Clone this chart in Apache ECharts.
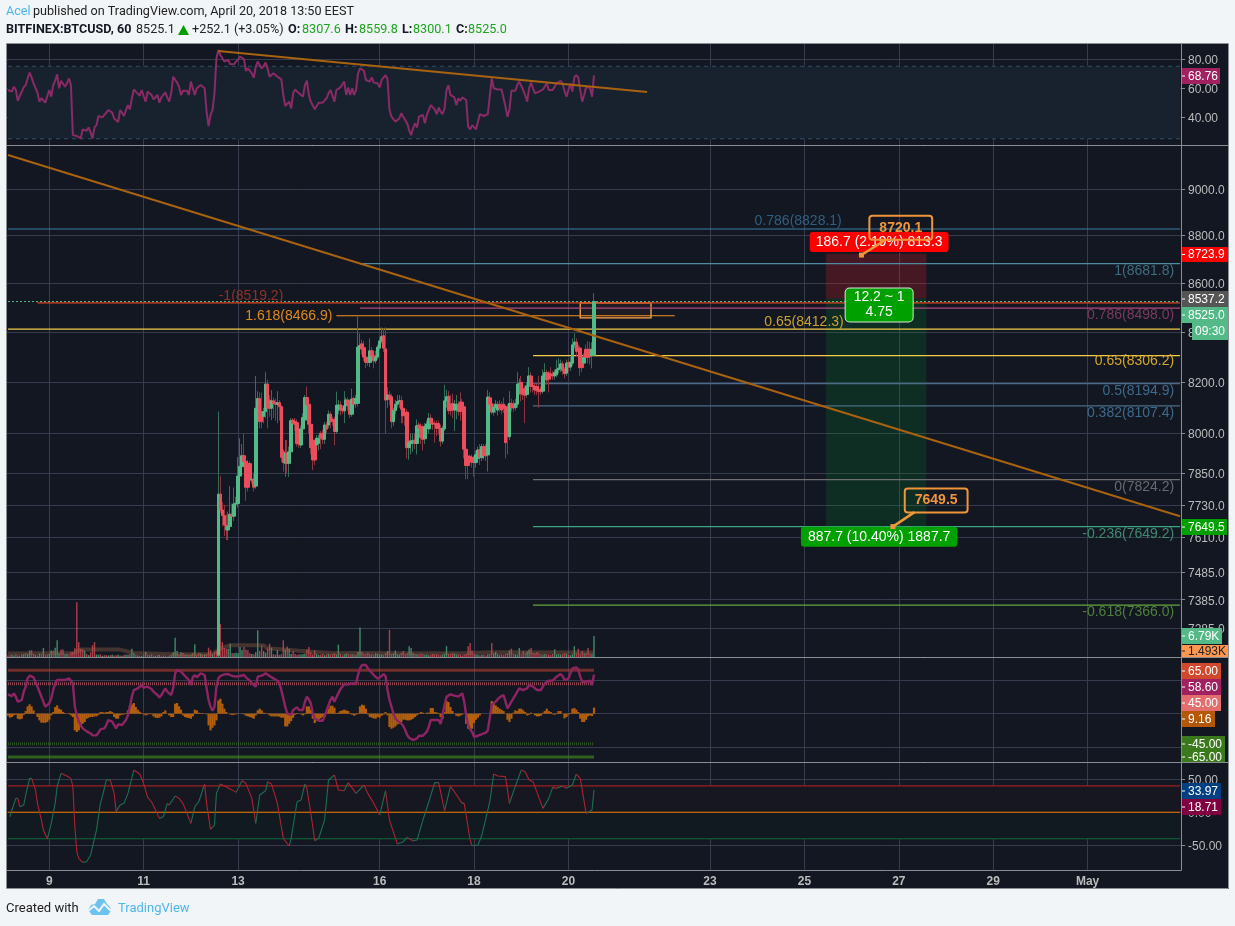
<!DOCTYPE html>
<html><head><meta charset="utf-8"><style>html,body{margin:0;padding:0;background:#f1f5f8}#c{width:1235px;height:926px}</style>
<script src="https://cdn.jsdelivr.net/npm/echarts@6/dist/echarts.min.js"></script></head><body><div id="c"></div>
<script>
const slotCount = 597;
const dayTickHours = [21,69,117,189,237,285,357,405,453,501,549];
const dayTickLabels = ['9','11','13','16','18','20','23','25','27','29','May'];
const priceTicks = [9000,8800,8600,8400,8200,8000,7850,7730,7610,7485,7385,7285];
const rsiTicks = [40,60,80];
const midTicks = [-50,0,50];
const stochTicks = [-50,0,50];
const candleStart = 107;
// open, close, low, high
const candles = [
[7190,7770,7190,8085],[7770,7711,7700,7838],[7711,7690,7650,7740],[7690,7655,7615,7730],[7655,7637,7600,7695],[7637,7650,7600,7705],[7650,7695,7640,7800],[7695,7688,7660,7735],[7688,7733,7670,7795],[7733,7736,7700,7760],
[7735,7838,7720,7910],[7838,7874,7825,7982],[7874,7915,7860,7960],[7915,7893,7870,8000],[7893,7796,7745,7905],[7885,7796,7780,7900],[7885,7823,7800,7895],[7823,7826,7810,7850],[7826,7796,7780,7850],[7800,8098,7790,8225],
[8098,8136,8080,8165],[8136,8046,8020,8160],[8085,8046,8020,8160],[8066,8085,8040,8100],[8085,8193,8060,8240],[8193,8098,8020,8210],[8130,8098,8065,8150],[8098,8127,8052,8170],[8127,8117,8060,8140],[8120,8113,8050,8135],
[8113,8120,8040,8165],[8120,8104,8050,8130],[8104,7909,7890,8110],[7930,7889,7855,7940],[7886,7924,7835,7975],[7924,7886,7850,7975],[7886,7930,7835,7950],[7930,8050,7920,8060],[8052,8039,8000,8060],[8046,8036,8010,8060],
[8042,7962,7950,8055],[7972,7960,7945,7990],[7956,8018,7945,8030],[8018,8062,8005,8079],[8052,8140,8045,8150],[8140,8111,8090,8183],[8114,8036,8000,8120],[8036,7946,7920,8045],[7975,7899,7860,7985],[7962,7899,7880,7975],
[7956,7982,7930,7995],[7962,7982,7935,7995],[8001,7982,7940,8010],[8001,7978,7960,8015],[7978,8033,7960,8045],[8033,8017,8000,8045],[8033,8075,8020,8090],[8075,8046,8020,8085],[8055,8046,8030,8065],[8055,8008,7955,8065],
[8008,8110,8000,8163],[8091,8111,8075,8130],[8111,8091,8070,8125],[8098,8088,8075,8110],[8088,8108,8040,8165],[8108,8130,8095,8140],[8130,8111,8090,8140],[8114,8075,8060,8125],[8075,8134,8065,8175],[8136,8114,8080,8145],
[8117,8136,8100,8150],[8117,8340,8105,8463],[8335,8347,8310,8395],[8353,8332,8310,8370],[8338,8300,8285,8365],[8300,8279,8256,8310],[8289,8279,8265,8300],[8279,8325,8260,8375],[8325,8305,8290,8340],[8305,8285,8255,8320],
[8285,8300,8275,8325],[8300,8340,8290,8350],[8336,8365,8325,8380],[8365,8383,8355,8420],[8386,8336,8320,8415],[8333,8130,8000,8420],[8133,8150,8100,8180],[8150,8133,8110,8165],[8143,8046,8020,8155],[8046,8089,8030,8100],
[8089,8114,8075,8130],[8114,8124,8100,8150],[8124,8128,8100,8150],
[8128,8094,8040,8145],[8098,8069,8040,8110],[8075,8070,8030,8085],[8083,7946,7905,8095],[7946,7965,7900,7975],[7962,7972,7920,8000],[7965,7972,7930,8001],[7975,7962,7940,8000],[7962,8030,7920,8055],[8033,8020,7985,8045],
[8027,7984,7960,8040],[8020,7978,7935,8035],[7980,8027,7960,8040],[8025,8037,8005,8050],[8018,8059,8000,8080],[8059,8039,8020,8075],[8042,8036,8015,8055],[8039,8036,7965,8050],[8039,8020,7990,8050],[8039,8020,7995,8050],
[8020,7971,7950,8035],[7971,8020,7960,8030],[8018,8127,8010,8190],[8127,8143,8100,8170],[8145,8089,8075,8165],[8114,8089,8070,8150],[8117,8091,8060,8155],[8091,8114,8010,8130],[8091,8114,8055,8150],[8114,8086,8070,8125],
[8122,8085,8050,8160],[8122,8104,8085,8135],[8104,7940,7905,8110],[7940,7878,7826,7950],[7914,7878,7826,7925],[7912,7903,7880,7920],[7909,7890,7870,7920],[7905,7889,7835,7915],[7889,7919,7870,7935],[7905,7937,7890,7950],
[7937,7908,7880,7960],[7908,7950,7895,7960],[7950,7915,7900,7960],[7950,7915,7895,7960],[7918,8142,7855,8170],[8139,8114,8100,8160],[8117,8083,8075,8130],[8083,8102,8070,8115],[8100,8114,8080,8130],[8091,8111,8070,8125],
[8114,8098,8085,8130],[8111,8091,8075,8125],[8114,8098,8080,8140],[8104,7965,7905,8112],[8104,7988,7920,8115],[7988,8117,7975,8165],[8117,8099,8085,8135],[8114,8099,8085,8130],[8101,8117,8090,8135],[8114,8193,8100,8240],
[8190,8196,8150,8215],[8200,8156,8125,8225],[8175,8152,8130,8190],[8171,8149,8040,8185],[8152,8186,8140,8200],[8186,8225,8170,8260],[8225,8184,8160,8240],[8187,8184,8160,8200],[8184,8170,8150,8195],[8183,8167,8150,8195],
[8170,8163,8100,8225],[8172,8163,8150,8185],[8165,8225,8155,8250],[8225,8238,8200,8275],[8238,8209,8190,8250],[8236,8213,8160,8245],[8233,8225,8210,8260],[8232,8225,8210,8245],[8225,8239,8210,8250],[8229,8250,8220,8290],
[8250,8256,8235,8295],[8254,8273,8240,8290],[8273,8246,8230,8285],[8251,8234,8215,8260],[8236,8276,8225,8290],[8279,8260,8240,8290],[8260,8279,8245,8300],[8276,8349,8265,8375],[8349,8360,8335,8395],[8360,8323,8300,8375],
[8336,8323,8300,8350],[8336,8258,8225,8345],[8299,8258,8240,8310],[8276,8299,8265,8315],[8331,8299,8280,8350],[8331,8299,8275,8365],[8331,8303,8270,8360],[8307,8331,8255,8360],[8307.6,8525,8300.1,8559.8]
];
const volumes = [
.5,.6,.7,.5,.9,.6,.5,.8,.9,1.2, 1.0,2.1,2.2,1.0,.7,.5,1.1,.9,2.9,.7, .8,1.0,2.1,2.1,3.0,5.4,1.2,2.4,2.4,.9, 1.0,.7,1.5,1.6,2.8,17.7,4.8,2.7,2.5,2.0,
1.0,.6,1.5,3.8,4.8,.8,.7,.9,.4,.6, .6,.5,.6,.7,.5,.6,.7,.5,.4,.7, .7,.8,.9,2.7,1.2,.7,.6,.5,.4,.7, 1.6,.7,.6,.9,.5,.4,.6,.7,.3,.5,
.3,.2,.4,.7,1.5,6.2,1.9,.9,1.5,1.3, .9,.8,.7,.8,1.3,4.1,.8,1.4,1.1,.8, .9,1.0,3.0,2.2,1.0,1.6,2.0,38,10.7,4.8, 2.9,2.7,2.7,4.3,1.3,1.2,1.4,1.2,3.2,2.3,
3.2,2.4,2.2,1.2,1.0,.9,1.6,8.6,2.0,3.8, 1.9,1.4,2.7,4.3,3.0,.9,.8,2.2,.7,.9, 5.4,2.4,3.4,2.7,1.0,1.9,1.0,.7,.9,.8, 1.0,1.1,2.4,3.2,1.5,.9,2.1,1.0,.7,.8,
1.0,.6,.8,1.0,.7,.9,1.2,.8,4.0,1.0, .6,.8,1.1,1.0,.7,.9,.8,.7,1.6,9.5, 1.6,1.0,.9,1.4,.8,.9,.7,1.2,1.0,.8, .9,.7,1.3,1.9,8.8,1.0,1.2,2.1,.9,.8,
1.3,1.9,1.0,1.2,3.5,2.9,1.2,1.0,.9,.8, 1.1,.9,.7,.8,.6,.7,1.0,.8,.9,.7, .6,.8,1.2,3.5,1.0,.9,1.2,1.1,.8,.9, .7,.5,.8,1.0,3.5,4.5,2.1,.9,.8,.7,
.6,.7,.8,.6,.9,1.0,4.5,1.2,1.6,.9, .8,.9,.7,1.0,1.2,2.1,2.7,1.0,.9,.8, 2.9,.9,1.9,1.2,1.8,2.4,2.9,1.3,1.2,1.6, 1.1,.9,.8,1.0,.9,.8,.7,1.0,2.5,.9,
1.0,.8,.9,1.2,1.1,.7,.6,.9,3.5,1.2, 2.7,1.0,1.9,1.1,1.3,2.9,1.1,1.0,6.79];
const earlyVolumeSides = 'dduududuud'+'uuddududud'+'duuduuuddu'+'uddddddddu'+'duddduudud'+'dududdudud'+'uduuududud'+'ududdududd'+'duuduuudud'+'dudududdud'+'udddudd';
const volumeMaHours = [0,16,33,37,57,64,84,104,108,113,130,132,148,165,179,199,233,246,298];
const volumeMa = [1.1,1.2,1.2,2.4,2.4,1.3,.9,1.0,2.8,3.8,3.8,2.8,2.0,1.2,1.3,1.2,1.2,1.5,1.493];
const rsi = [
58.6,57.9,57.5,60.9,58.6,51.2,54.5,55.8,60.4,62, 66.6,70.6,67.3,63.2,62.7,56.8,50.6,52.9,52.9,49.9, 50.6,58.6,54,62,65,69.4,59.8,65,64.4,60.9, 63.2,66.6,62,27.5,27.5,26.9,26.4,25.3,31.5,30.5,
30.5,32.8,29.2,25.3,32.8,34.4,40.7,42,39.7,41.4, 43,44.8,45.3,43,39,37.9,36.5,44.8,43,40.7, 44.8,48.2,45.3,52.9,59,57.5,56.3,54.7,58.6,54.5, 50.6,57.5,56.3,55.2,52.2,52.2,55.2,49.9,53.5,55.2,
57,53.5,50.6,56.3,67.8,68.3,63.7,60.9,55.2,58.1, 58.6,58.1,55.2,64.4,63.2,55.2,59.8,60.4,62,63.2, 59.8,43.6,33.8,41.4,44.8,56.3,80.5,86.2,82.8,80.5, 78.2,77,79.3,76.3,77.5,76.5,78.2,79.8,81.6,81.1,
80,71.9,73.5,74.2,70.1,67.1,74.7,78.2,78.2,73.5, 75.2,77.5,73.5,67.8,68.9,70.1,68.9,67.8,67,66, 55.2,47.6,47.1,50.6,45.9,56.3,59,58.1,56.3,55.2, 54,62,65,55.2,50.6,49.4,45.3,47.6,49.9,51.2,
49.9,50.6,52.9,56.3,58.6,59,50.6,58.6,59,60.4, 60.9,64.4,55.2,60.4,55.2,59.8,55.2,58.6,70.1,73.5, 74.2,71.9,65.5,65,64.4,67.3,63.7,63.4,63.2,60.4, 65.5,67.3,68.9,66,44.8,40.2,41.4,36.8,35.6,39,
42.5,40.2,39,35.6,31,27.5,32.2,35.6,32.8,40.2, 40.8,41.4,35.6,41.4,42,48.2,47.6,45.3,42,46.6, 43.6,42,45.9,58.6,62,55.2,55.2,53.5,48.2,52.9, 51.2,53.5,54,51.7,33.3,31.5,34.4,34.4,31.5,36.8,
42,41,40.7,41.4,42,43,66.6,59.8,59.3,59, 59,59,59,47.1,40.2,45,58.1,56.8,58.1,62, 64.4,63.2,58.6,55,50.6,59.8,63.7,59.8,56.3,56.8, 57.5,56.3,59,58.1,63.2,58.6,59,58.6,58.6,63.2,
64.4,65,63.2,58,54,58.6,63.2,57.5,67.3,68.9, 67.3,58.6,50.6,55.2,60.9,60.9,60,54,68.76];
const midLine = [
29,26.5,26.5,30.5,25.5,18,16.5,20.5,33,40.5, 53,57,57.5,54.5,53,40.5,33,25.5,18,10.5, 13,15.5,23,35.5,45.5,50.5,53,50.5,50.5,50.5, 53,53,54.5,45.5,10.5,-2,-12,-17,-22,-24.5,
-26.5,-27,-29.5,-32.5,-33,-32.5,-28.5,-23.5,-23,-22, -17,-9.5,-7,-12,-17,-22,-16,-14.5,-17,-14.5, -9.5,-2,10.5,25.5,35.5,38,38,40.5,43,39, 39.5,40.5,40.5,37,33,30.5,28,24.5,28,33,
38,33,33,28,38,60.5,65.5,66.5,63,60.5, 56.5,54,50.5,43,54.5,58,54.5,56.5,60.5,63, 58,38,20.5,10.5,4.5,10.5,40.5,53,56.5,58.5, 59,59.5,59.5,59.5,56.5,56.5,55.5,56.5,56.5,58,
58,54.5,53,49.5,45.5,43,40.5,55.5,57,57, 57.5,60.5,60.5,56.5,54.5,53,50.5,49.5,45.5,35.5, 23,10.5,.5,-.5,-2,5.5,8,9.5,5.5,5.5, 5.5,18,25.5,21.5,15.5,.5,-7,-7,-10.5,-10.5,
-10.5,-4.5,4.5,13,20.5,25.5,18,24.5,30.5,36.5, 40.5,44,45.5,44,43,45.5,44.5,44.5,58,68, 73,74.5,73,68,65.5,61.5,58,55.5,52.5,54.5, 56.5,59.5,56.5,35.5,20.5,10.5,.5,-7,-10.5,-12,
-14.5,-18.5,-24.5,-32,-36,-38,-39.5,-40.5,-37,-33, -32,-33,-30.5,-27,-19.5,-9.5,-7,-9.5,-7,-9.5, -15.5,-14.5,13,25.5,28,29,30.5,27,28,25.5, 28,30.5,18,-2,-17,-23.5,-27,-34.5,-34.5,-33,
-33,-30.5,-28.5,-28.5,-25,-23,13,15.5,18,21.5, 24.5,26.5,28,18,8,13,18,23,28,33, 38,38,35.5,33,38,43,43,40.5,38,35.5, 33,35.5,40.5,45.5,48,49.5,50.5,49.5,51.5,55.5,
58,59.5,56.5,50.5,51.5,52.5,60.5,68,69.5,69.5, 66.5,55.5,48,48,48,49.5,49.5,43,58.6];
const midHist = [
-3,-6,-5,-2.5,-1.5,-7.5,-8.5,-7.5,-2,4, 11,14,11,5,0,-5,-10,-13.5,-13.5,-13.5, -12.5,-9,-2.5,2.5,10,12.5,7.5,6,2.5,1, 0,1,-2.5,-5,-25,-27.5,-25,-20,-15,-12.5,
-7.5,-6,-5,-5,-4,-4,-2,2.5,2.5,1.5, 2.5,2.5,4,2.5,-5,-7.5,-7.5,-2.5,-1.5,-1, 1,5,12.5,14,16,10,6,3,1,-1, -2.5,-1.5,1,-1,-4,-6,-6.5,-6,-4,2.5,
5,0,-2.5,-5,-5,15,16,11,6,-2.5, -5,-6,-6.5,-7.5,-4,6,5,1.5,1,1, 0,-1,-17.5,-25,-21,-17.5,-10,20,22.5,15, 7.5,2.5,0,-1,-2,-1.5,-1,-.5,0,-.5,
-1,-3,-4,-5,-6,-7.5,-2.5,5,7.5,5, 1.5,1,-.5,-2.5,-4,-4,-4,-4,-4.5,-6, -6,-19,-19,-15,-11,-6,-1.5,1,0,-1, -2.5,-1,11,11,6,-7.5,-14,-11,-9,-7,
-5,-2.5,2.5,7.5,12,12,9,1,1.5,4, 5,6,5,4,1,-1.5,-3,-1.5,1,11, 13.5,12.5,7.5,-1,-5,-6,-7,-7.5,-5,-6, -3,-1.5,2.5,-2.5,-20,-22.5,-21,-19,-16,-15,
-12.5,-9,-9,-10,-10,-9,-7.5,-5,-2.5,1, 2.5,1.5,0,1.5,1.5,8.5,8.5,2.5,2,1, -5,-7.5,2.5,19,17.5,10,4,0,-3,-4, -3,-1.5,0,-15,-22.5,-24,-22.5,-14,-9,-6,
-2.5,0,0,0,0,0,19,17.5,12.5,10, 7.5,6,4,0,-9,-12.5,-7.5,1.5,5,4, 7.5,7.5,5,2.5,-2.5,-1.5,1.5,0,-2.5,-4, -4,-3,1.5,4,7.5,4,2.5,-1,-1.5,1,
4,4,0,-7,-5,-1.5,1,7.5,8.5,6, 2.5,-7.5,-12.5,-12.5,-9,-4,-2.5,-3.5,9.16];
const stochHours = [1,2,4,5,6,8,9,11,12,14,15,17,18,20,22,24,25,27,30,32,33,34,35,36,38,40,42,43,45,47,48,50,52,54,55,57,59,61,64,67,69,71,73,75,77,79,81,82,85,87,89,93,95,97,100,101,103,105,106,108,111,116,119,121,124,126,128,131,132,134,137,140,143,144,147,149,151,152,154,156,158,161,163,166,168,171,173,177,181,183,186,189,192,194,198,201,203,206,208,211,214,217,219,222,225,227,231,232,235,236,239,241,245,247,249,253,255,257,261,263,265,267,272,275,277,279,282,284,287,289,291,294,297,298];
const stochValues = [-6.7,3.5,21.1,21.1,8.5,11,26.2,51.4,51.4,33.8,13.6,-11.7,-26.9,-40.5,-16.8,13.6,38.8,59,55,51.4,38.8,-21.8,-59.7,-69.8,-75.8,-74.8,-64.7,-52.1,-26.9,13.6,23.6,48.9,48.9,28.7,1,11,13.6,28.7,64,58,43.9,22.6,16,3.5,-9.2,-6.7,13.6,11,24.7,21.1,13.6,-16.8,8.5,16,42.8,13.6,-25.8,-19.3,28.7,42.8,38.8,30.2,47.9,43.9,21.1,-16.8,26.2,32.7,46.4,42.8,13.6,-39.5,-51.1,-39.5,16,18.6,42.8,36.3,-1.6,-43,-39.5,-11.7,48.9,56.5,33.8,32.7,44.9,28.7,41.3,28.7,13.6,-4.1,32.7,-11.7,-48.1,-44.5,-38,-43.5,-42,-11.7,16,44.9,44.9,2.4,38.8,31.2,13.6,13.6,-42,-50.6,-49.6,-34.4,16,58,55,54,13.6,31.2,64,61.5,48.9,46.4,6,21.1,37.8,36.3,39.8,36.3,41.3,58,51.4,-1.6,3.5,33.97];
const fibTexts = ['0.786(8828.1)','1(8681.8)','-1(8519.2)','0.786(8498.0)','1.618(8466.9)','0.65(8412.3)','0.65(8306.2)','0.5(8194.9)','0.382(8107.4)','0(7824.2)','-0.236(7649.2)','-0.618(7366.0)'];
const fibValues = [8828.1,8681.8,8519.2,8498.0,8466.9,8412.3,8306.2,8194.9,8107.4,7824.2,7649.2,7366.0];
const fibStartHours = [0,179,15,179,167,0,267,267,267,267,267,267];
const fibEndHours = [596,596,596,596,339,596,596,596,596,596,596,596];
const fibTextHours = [424,593,140,593,165,425,593,593,593,593,593,593];
const fibLineColors = ['#3a7fa6','#4f8aa0','#e0431e','#b0487f','#f7931e','#f5cb4a','#f5cb4a','#4a6c8a','#4a6f88','#6f6f6f','#3fa582','#63a83f'];
const fibTextColors = ['#2f5f80','#3e6d7e','#8f3226','#7a3b5f','#e0891a','#c9a130','#d4a72c','#3d6a8a','#3d6a8a','#666a70','#3e8a6f','#4f7f3f'];
const fibTextOffsets = [-8,7,-7,7,0,-7,6,8,7,7,7,7];
const trendMainHours = [0,596], trendMainPrices = [9148.6,7688];
const trendRsiHours = [107,325], trendRsiValues = [85.5,57.2];
const riskHours = [416,467], riskPrices = [8723.9,8537.2,7649.5];
const boxHours = [291,327], boxPrices = [8519.2,8458];
const calloutHours = [[434,446],[450,461]], calloutPrices = [[8718,8781],[7649.5,7703]];

const GRID='#363c4e', AXIS='#8a8d94', TEXT='#bcbcbc', UP='#53b987', DOWN='#eb4d5c';
const FONT='"Liberation Sans",Arial,sans-serif';
const categories = Array.from({length:slotCount},(_,i)=>'h'+i);
const labelOf = new Map(dayTickHours.map((h,i)=>[h,dayTickLabels[i]]));
const isDay = i => labelOf.has(i);
const grids = [{top:44,height:101},{top:146,height:511},{top:658,height:104},{top:763,height:107}]
  .map(g=>({left:7,width:1174,...g}));
const xAxes = grids.map((g,k)=>({type:'category',gridIndex:k,data:categories,boundaryGap:true,
  axisLine:{show:false},
  axisTick:{show:k===3,interval:isDay,alignWithLabel:true,length:4,lineStyle:{color:AXIS}},
  axisLabel:{show:k===3,interval:isDay,margin:6,formatter:(v,i)=>labelOf.get(i)||'',color:TEXT,fontFamily:FONT,fontSize:12,fontWeight:'bold'},
  splitLine:{show:true,interval:isDay,alignWithLabel:true,lineStyle:{color:GRID,width:1}}}));
const yBase = {position:'right',axisLine:{show:true,lineStyle:{color:AXIS}},
  splitLine:{show:true,lineStyle:{color:GRID,width:1}}};
const yTick = (ticks,fmt)=>({axisTick:{show:true,customValues:ticks,length:4,lineStyle:{color:AXIS}},
  axisLabel:{customValues:ticks,formatter:v=>Number(v).toFixed(fmt),color:TEXT,fontFamily:FONT,fontSize:12,margin:7,verticalAlign:'top',lineHeight:3}});
const yAxes = [
 {type:'value',gridIndex:0,min:20.69,max:90.34,...yBase,...yTick(rsiTicks,2)},
 {type:'log',logBase:10,gridIndex:1,min:7184,max:9188,...yBase,...yTick(priceTicks,1)},
 {type:'value',gridIndex:1,min:0,max:165,position:'right',show:false,splitLine:{show:false}},
 {type:'value',gridIndex:2,min:-72.4,max:83.5,...yBase,...yTick(midTicks,2)},
 {type:'value',gridIndex:3,min:-87.4,max:74.7,...yBase,...yTick(stochTicks,2)}
];
const zip = (xs,ys)=>xs.map((x,i)=>[x,ys[i]]);
const seg = (name,xa,ya,xs,ys,color,width,z,extra)=>Object.assign({name,type:'line',xAxisIndex:xa,yAxisIndex:ya,data:zip(xs,ys),
  symbol:'none',silent:true,animation:false,z,lineStyle:{color,width}},extra||{});
const indexed = arr => arr.map((v,i)=>[i,v]);
const pad = Array(candleStart).fill('-');
const series = [];
// RSI pane
series.push(seg('rsiHigh',0,0,[0,596],[75,75],'#2d4f6e',1,2,{lineStyle:{color:'#2d4f6e',width:1,type:[4,4]},
  markArea:{silent:true,animation:false,itemStyle:{color:'#18222f'},data:[[{coord:[0,75]},{coord:[596,25]}]]},z:1}));
series.push(seg('rsiLow',0,0,[0,596],[25,25],'#2d4f6e',1,2,{lineStyle:{color:'#2d4f6e',width:1,type:[4,4]}}));
series.push({name:'rsi',type:'line',xAxisIndex:0,yAxisIndex:0,data:indexed(rsi),symbol:'none',silent:true,animation:false,z:3,lineStyle:{color:'#8a2a66',width:2}});
series.push(seg('rsiTrend',0,0,trendRsiHours,trendRsiValues,'#a9620f',2,4));
// Main pane
fibValues.forEach((v,i)=>series.push(seg('fib'+i,1,1,[fibStartHours[i],fibEndHours[i]],[v,v],fibLineColors[i],1.2,3)));
series.push(seg('priceLine',1,1,[0,596],[8525,8525],UP,1,3,{lineStyle:{color:UP,width:1,type:[2,2]}}));
series.push({name:'riskBoxes',type:'line',xAxisIndex:1,yAxisIndex:1,data:[],silent:true,animation:false,z:2,
  markArea:{silent:true,animation:false,data:[
   [{coord:[riskHours[0],riskPrices[0]],itemStyle:{color:'rgba(255,30,40,.22)'}},{coord:[riskHours[1],riskPrices[1]]}],
   [{coord:[riskHours[0],riskPrices[1]],itemStyle:{color:'rgba(0,160,40,.17)'}},{coord:[riskHours[1],riskPrices[2]]}]
  ]}});
series.push({name:'orangeBox',type:'line',xAxisIndex:1,yAxisIndex:1,data:[],silent:true,animation:false,z:7,
  markArea:{silent:true,animation:false,data:[
   [{coord:[boxHours[0],boxPrices[0]],itemStyle:{color:'rgba(255,152,50,.05)',borderColor:'#ffa552',borderWidth:1.3,opacity:1}},{coord:[boxHours[1],boxPrices[1]]}]
  ]}});
const volumeData = volumes.map((v,i)=>{
  const up = i<candleStart ? earlyVolumeSides[i]==='u' : candles[i-candleStart][1]>=candles[i-candleStart][0];
  return {value:v,itemStyle:{color:up?'rgba(83,185,135,.72)':'rgba(235,77,92,.72)'}};
});
series.push({name:'volume',type:'bar',xAxisIndex:1,yAxisIndex:2,data:volumeData,barWidth:1.4,silent:true,animation:false,z:2});
series.push(seg('volumeMa',1,2,volumeMaHours,volumeMa,'rgba(150,100,70,.38)',4,3));
const candleBase = {type:'candlestick',xAxisIndex:1,yAxisIndex:1,silent:true,animation:false,clip:true,progressive:0};
series.push({...candleBase,name:'wicks',z:4,barWidth:1,data:pad.concat(candles),
  itemStyle:{color:'#33705a',color0:'#8c3340',borderColor:'#33705a',borderColor0:'#8c3340',borderWidth:1}});
series.push({...candleBase,name:'bodies',z:5,barWidth:3,data:pad.concat(candles.map(c=>[c[0],c[1],Math.min(c[0],c[1]),Math.max(c[0],c[1])])),
  itemStyle:{color:UP,color0:DOWN,borderColor:UP,borderColor0:DOWN,borderWidth:1}});
series.push(seg('priceTrend',1,1,trendMainHours,trendMainPrices,'#a9620f',2,6));
calloutHours.forEach((h,i)=>{
  series.push({name:'callout'+i,type:'line',xAxisIndex:1,yAxisIndex:1,silent:true,animation:false,z:11,showSymbol:true,showAllSymbol:true,
    symbol:'rect',symbolSize:5,clip:false,
    lineStyle:{color:'#f0953a',width:2.5},itemStyle:{color:'#f0953a',opacity:1},
    data:[{value:[h[0],calloutPrices[i][0]]},{value:[h[1],calloutPrices[i][1]],symbol:'none'}]});
});
const fibLabels = fibTexts.map((t,i)=>({value:[fibTextHours[i],fibValues[i]],
  label:{show:true,formatter:t,position:'left',distance:0,offset:[0,fibTextOffsets[i]],color:fibTextColors[i],fontFamily:FONT,fontSize:14}}));
const box = (text,h,p,style)=>({value:[h,p],label:Object.assign({show:true,formatter:text,position:'inside',fontFamily:FONT,fontSize:13,color:'#fff'},style)});
const boxes = [
 box('186.7 (2.19%) 813.3',443,8773,{backgroundColor:'#ff0000',padding:[3,6,3,6],borderRadius:3,fontSize:14}),
 box('887.7 (10.40%) 1887.7',443,7612,{backgroundColor:'#00a000',padding:[3,7,3,7],borderRadius:3,fontSize:14}),
 box('12.2 ~ 1\n4.75',443,8511,{backgroundColor:'#00a000',borderColor:'#d8e8d8',borderWidth:1,borderRadius:4,padding:[2,8,1,8],lineHeight:15,fontSize:14,align:'center'}),
 box('8720.1',454,8833,{color:'#f0953a',borderColor:'#f0953a',borderWidth:2,borderRadius:3,padding:[5,10,5,10],fontSize:14,fontWeight:'bold'}),
 box('7649.5',472,7746,{color:'#f0953a',borderColor:'#f0953a',borderWidth:2,borderRadius:3,padding:[5,10,5,10],fontSize:14,fontWeight:'bold'})
];
const solid = {itemStyle:{opacity:1}};
series.push({name:'fibLabels',type:'scatter',xAxisIndex:1,yAxisIndex:1,symbolSize:0,silent:true,animation:false,z:8,data:fibLabels,...solid});
series.push({name:'boxes',type:'scatter',xAxisIndex:1,yAxisIndex:1,symbolSize:0,silent:true,animation:false,z:9,clip:false,data:boxes.slice(0,3),...solid});
series.push({name:'callouts',type:'scatter',xAxisIndex:1,yAxisIndex:1,symbolSize:0,silent:true,animation:false,z:12,clip:false,data:boxes.slice(3),...solid});
// Middle pane
const midLast = 298;
[[65,'rgba(190,65,45,.55)',3,'solid'],[45,'rgba(225,100,110,.6)',3,[1,1]],[-45,'rgba(60,130,30,.55)',3,[1,1]],[-65,'rgba(60,130,30,.7)',3,'solid']].forEach((l,i)=>{
  series.push(seg('midLevel'+i,2,3,[0,midLast],[l[0],l[0]],l[1],l[2],2,{lineStyle:{color:l[1],width:l[2],type:l[3]}}));
});
series.push({name:'midHist',type:'bar',xAxisIndex:2,yAxisIndex:3,data:midHist,barWidth:2.2,silent:true,animation:false,z:3,itemStyle:{color:'#b35f0b'}});
series.push({name:'midLine',type:'line',xAxisIndex:2,yAxisIndex:3,data:indexed(midLine),symbol:'none',silent:true,animation:false,z:4,lineStyle:{color:'#8f2464',width:2.4}});
// Stochastic pane
series.push({name:'stochBands',type:'line',xAxisIndex:3,yAxisIndex:4,data:[],silent:true,animation:false,z:1,
  markArea:{silent:true,animation:false,data:[
   [{coord:[0,40],itemStyle:{color:'#171722'}},{coord:[596,0]}],
   [{coord:[0,0],itemStyle:{color:'#111a21'}},{coord:[596,-40]}]]}});
[[40,'#9c2020'],[0,'#f57c00'],[-40,'#0f6a3a']].forEach((l,i)=>series.push(seg('stochLevel'+i,3,4,[0,596],[l[0],l[0]],l[1],1.1,2)));
const upSeg=[],downSeg=[];
for(let k=1;k<stochHours.length;k++){
  const t = stochValues[k]>=stochValues[k-1]?upSeg:downSeg;
  t.push([stochHours[k-1],stochValues[k-1]],[stochHours[k],stochValues[k]],[stochHours[k],'-']);
}
series.push({name:'stochUp',type:'line',xAxisIndex:3,yAxisIndex:4,data:upSeg,symbol:'none',silent:true,animation:false,z:3,lineStyle:{color:'#1c7050',width:1.1}});
series.push({name:'stochDown',type:'line',xAxisIndex:3,yAxisIndex:4,data:downSeg,symbol:'none',silent:true,animation:false,z:3,lineStyle:{color:'#ab2430',width:1.1}});

// Chrome
const HFONT='Roboto,"Noto Sans",sans-serif';
const txt=(x,y,text,fill,weight,size,font)=>({type:'text',z:200,x,y,style:{text,fill,fontFamily:font||HFONT,fontSize:size||12.6,fontWeight:weight||'normal',textVerticalAlign:'middle'}});
const rule=(x1,y1,x2,y2)=>({type:'line',z:150,shape:{x1,y1,x2,y2},style:{stroke:AXIS,lineWidth:1}});
const tag=(x,y,w,h,fill,text,tc)=>({type:'group',z:180,children:[
  {type:'rect',z:180,shape:{x,y,width:w,height:h},style:{fill}},
  {type:'rect',z:181,shape:{x,y:y+h/2-.5,width:3,height:1},style:{fill:tc||'#fff'}},
  {type:'text',z:182,x:x+6,y:y+h/2+.5,style:{text,fill:tc||'#fff',fontFamily:FONT,fontSize:12,textVerticalAlign:'middle'}}]});
const elements=[
 txt(6,12,'Acel','#4fb6ec'),txt(33,12,'published on TradingView.com, April 20, 2018 13:50 EEST','#222'),
 txt(6,30,'BITFINEX:BTCUSD, 60','#131722','bold'),txt(136,30,'8525.1','#222'),
 {type:'polygon',z:200,shape:{points:[[178,35],[189,35],[183.5,25]]},style:{fill:'#00a000'}},
 txt(192,30,'+252.1 (+3.05%)','#222'),
 txt(288,30,'O:','#131722','bold'),txt(302,30,'8307.6','#1ea51e'),
 txt(345,30,'H:','#131722','bold'),txt(359,30,'8559.8','#1ea51e'),
 txt(402,30,'L:','#131722','bold'),txt(413,30,'8300.1','#1ea51e'),
 txt(456,30,'C:','#131722','bold'),txt(468,30,'8525.0','#1ea51e'),
 txt(6,909,'Created with','#222',null,13),txt(118,909,'TradingView','#4fb6ec',null,13),
 {type:'polygon',z:200,shape:{points:[[88,910],[91,905],[95,904],[98,899],[104,899],[107,904],[110,907],[111,911],[108,915],[92,915]]},style:{fill:'#6cc3ef'}},
 {type:'polyline',z:201,shape:{points:[[88,911],[94,906],[99,911],[104,904],[111,911]]},style:{stroke:'#f1f5f8',lineWidth:2,fill:null}},
 {type:'rect',z:150,shape:{x:6.5,y:43.5,width:1222,height:845},style:{fill:null,stroke:AXIS,lineWidth:1}},
 rule(7,145.5,1229,145.5),rule(7,657.5,1229,657.5),rule(7,762.5,1229,762.5),rule(7,870.5,1181.5,870.5),
 tag(1182,68,38,16,'#a02060','68.76'),
 tag(1182,247,46,15,'#ff0000','8723.9'),
 tag(1182,291,46,16,'#555555','8537.2'),
 tag(1182,307,46,16,UP,'8525.0'),
 {type:'group',z:180,children:[{type:'rect',z:180,shape:{x:1192,y:323,width:36,height:17},style:{fill:UP}},
   {type:'text',z:182,x:1195,y:332,style:{text:'09:30',fill:'#fff',fontFamily:FONT,fontSize:12,textVerticalAlign:'middle'}}]},
 tag(1182,519,45,16,'#00a000','7649.5'),
 tag(1182,628,40,16,UP,'6.79K'),
 tag(1182,645,46,12,'#ff9850','1.493K','#222'),
 tag(1182,663,39,16,'#d0492c','65.00'),
 tag(1182,679,39,16,'#a02060','58.60'),
 tag(1182,695,39,16,'#e46d6d','45.00'),
 tag(1182,711,33,16,'#b35806','9.16'),
 tag(1182,736,43,16,'#3a7a1c','-45.00'),
 tag(1182,752,43,10,'#3a7a1c','-65.00'),
 tag(1182,783,39,16,'#004080','33.97'),
 tag(1182,799,39,16,'#800040','18.71')
];
const chart = echarts.init(document.getElementById('c'),null,{renderer:'canvas'});
chart.setOption({animation:false,backgroundColor:'#f1f5f8',grid:grids.map(g=>({...g,show:true,backgroundColor:'#131722',borderWidth:0})),
  xAxis:xAxes,yAxis:yAxes,series,
  graphic:{elements:[{type:'rect',z:-1,silent:true,shape:{x:1181,y:44,width:48,height:845},style:{fill:'#131722'}},
    {type:'rect',z:-1,silent:true,shape:{x:7,y:870,width:1175,height:19},style:{fill:'#131722'}},...elements]}});
</script></body></html>
